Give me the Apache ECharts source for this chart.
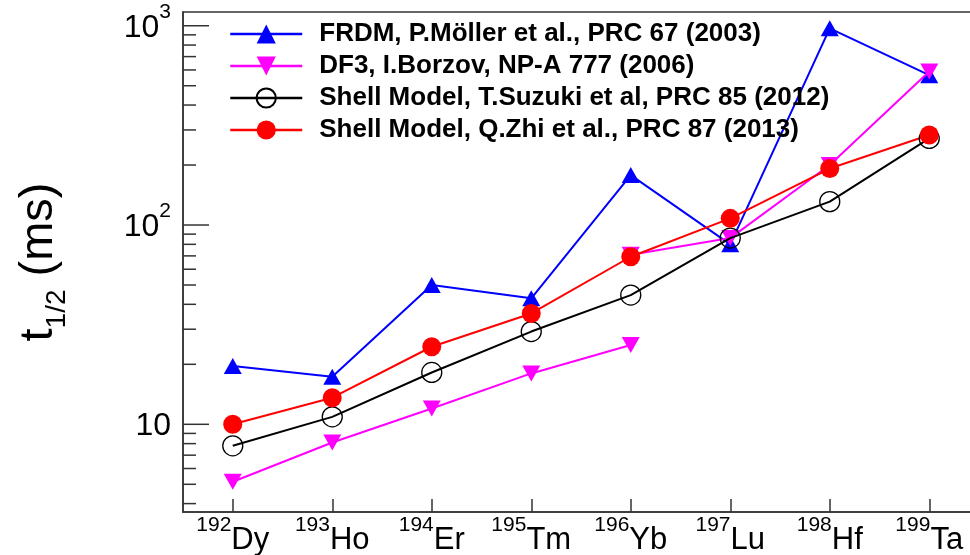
<!DOCTYPE html>
<html>
<head>
<meta charset="utf-8">
<script src="https://cdn.jsdelivr.net/npm/echarts@6/dist/echarts.min.js"></script>
<style>
  html, body { margin: 0; padding: 0; background: #ffffff; }
  #chart { width: 970px; height: 555px; }
</style>
</head>
<body>
<div id="chart"></div>
<script>
// Nuclei along the x axis: mass number (superscript) + element symbol
const massNumbers = [192, 193, 194, 195, 196, 197, 198, 199];
const elements = ['Dy', 'Ho', 'Er', 'Tm', 'Yb', 'Lu', 'Hf', 'Ta'];

// Half-lives t1/2 in ms
const frdm   = [19.6, 17.3, 50.0, 42.9, 178, 80, 970, 565];
const df3Low = [5.15, 8.1, 12.0, 18.0, 25.0, null, null, null];
const df3High = [null, null, null, null, 71, 86, 200, 590];
const suzuki = [7.8, 10.9, 18.2, 29.2, 44.5, 86, 131, 272];
const zhi    = [10.0, 13.6, 24.5, 36.0, 69.3, 108, 192, 283];

const seriesNames = [
  'FRDM, P.Möller et al., PRC 67 (2003)',
  'DF3, I.Borzov, NP-A 777 (2006)',
  'Shell Model, T.Suzuki et al, PRC 85 (2012)',
  'Shell Model, Q.Zhi et al., PRC 87 (2013)'
];

// Log-axis range and tick marks (major at decades)
const yMin = 3.63, yMax = 1172;
const yTicks = [4, 5, 6, 7, 8, 9, 10, 20, 30, 40, 50, 60, 70, 80, 90,
                100, 200, 300, 400, 500, 600, 700, 800, 900, 1000];
const yMajorTicks = [10, 100, 1000];

const categories = massNumbers.map((a, i) => a + elements[i]);
const frameColor = '#333333';
const font = 'Liberation Sans, Arial, Helvetica, sans-serif';

const chart = echarts.init(document.getElementById('chart'), null, { renderer: 'canvas' });

// Short/long tick marks on the inner side of the log axis
function renderTick(params, api) {
  const v = api.value(1);
  const major = api.value(2);
  const pt = api.coord([0, v]);
  const x0 = params.coordSys.x;
  const len = major ? 26 : 13;
  return {
    type: 'line',
    shape: { x1: x0, y1: pt[1], x2: x0 + len, y2: pt[1] },
    style: { stroke: frameColor, lineWidth: 1.5 }
  };
}

const option = {
  animation: false,
  backgroundColor: '#ffffff',
  textStyle: { fontFamily: font },
  grid: {
    left: 183, top: 12, width: 796, height: 500,
    show: true, borderColor: frameColor, borderWidth: 1.5,
    backgroundColor: 'transparent',
    containLabel: false, outerBoundsMode: 'none'
  },
  legend: {
    data: seriesNames,
    orient: 'vertical',
    left: 229, top: 18,
    padding: 0,
    itemWidth: 72, itemHeight: 24, itemGap: 0,
    lineStyle: { width: 2.5 },
    textStyle: {
      fontFamily: font, fontWeight: 'bold', fontSize: 26, color: '#000',
      lineHeight: 32, padding: [0, 0, 0, 12]
    },
    selectedMode: false
  },
  xAxis: {
    type: 'category',
    data: categories,
    boundaryGap: true,
    axisLine: { show: true, lineStyle: { color: frameColor, width: 1.5 } },
    axisTick: { show: true, inside: true, alignWithLabel: true, length: 13,
                lineStyle: { color: frameColor, width: 1.5 } },
    splitLine: { show: false },
    axisLabel: {
      margin: 3,
      interval: 0,
      formatter: (val, idx) => '{sup|' + massNumbers[idx] + '}{el|' + elements[idx] + '}',
      rich: {
        sup: { fontFamily: font, fontSize: 21, lineHeight: 21, verticalAlign: 'top', color: '#000' },
        el:  { fontFamily: font, fontSize: 31, lineHeight: 31, padding: [10, 0, 0, 0], verticalAlign: 'top', color: '#000' }
      }
    }
  },
  yAxis: {
    type: 'log',
    logBase: 10,
    min: yMin, max: yMax,
    axisLine: { show: true, lineStyle: { color: frameColor, width: 1.5 } },
    axisTick: { show: false },
    splitLine: { show: false },
    minorTick: { show: false },
    axisLabel: {
      margin: 12,
      padding: [0, 0, 16, 0],
      showMinLabel: false, showMaxLabel: false,
      formatter: (v) => {
        const e = Math.log10(v);
        const n = Math.round(e);
        if (Math.abs(e - n) > 1e-6) return '';
        return n === 1 ? '{b|10}' : '{b|10}{e|' + n + '}';
      },
      rich: {
        b: { fontFamily: font, fontSize: 32, lineHeight: 32, padding: [10, 0, 0, 0], verticalAlign: 'top', color: '#000' },
        e: { fontFamily: font, fontSize: 21, lineHeight: 21, verticalAlign: 'top', color: '#000' }
      }
    },
    name: '{t|t}{s|1/2}{n| (ms)}',
    nameLocation: 'middle',
    nameRotate: 90,
    nameGap: 120,
    nameMoveOverlap: false,
    nameTextStyle: {
      rich: {
        t: { fontFamily: font, fontSize: 47, lineHeight: 47, verticalAlign: 'top', color: '#000' },
        s: { fontFamily: font, fontSize: 28, lineHeight: 28, padding: [27, 0, 0, 0], verticalAlign: 'top', color: '#000' },
        n: { fontFamily: font, fontSize: 47, lineHeight: 47, verticalAlign: 'top', color: '#000' }
      }
    }
  },
  series: [
    {
      type: 'custom',
      name: 'yticks',
      silent: true,
      clip: false,
      renderItem: renderTick,
      data: yTicks.map(v => [0, v, yMajorTicks.indexOf(v) >= 0 ? 1 : 0]),
      z: 5
    },
    {
      type: 'line', name: seriesNames[0], data: frdm,
      symbol: 'triangle', symbolSize: [18, 16],
      lineStyle: { color: '#0000ff', width: 2 },
      itemStyle: { color: '#0000ff' },
      z: 2
    },
    {
      type: 'line', name: seriesNames[1], data: df3Low,
      symbol: 'triangle', symbolSize: [18, 16], symbolRotate: 180,
      connectNulls: false,
      lineStyle: { color: '#ff00ff', width: 2 },
      itemStyle: { color: '#ff00ff' },
      z: 3
    },
    {
      type: 'line', name: seriesNames[1], data: df3High,
      symbol: 'triangle', symbolSize: [18, 16], symbolRotate: 180,
      connectNulls: false,
      lineStyle: { color: '#ff00ff', width: 2 },
      itemStyle: { color: '#ff00ff' },
      z: 3
    },
    {
      type: 'line', name: seriesNames[2], data: suzuki,
      symbol: 'circle', symbolSize: 20,
      lineStyle: { color: '#000000', width: 2 },
      itemStyle: { color: 'rgba(0,0,0,0)', borderColor: '#000000', borderWidth: 1.3 },
      z: 4
    },
    {
      type: 'line', name: seriesNames[3], data: zhi,
      symbol: 'circle', symbolSize: 19,
      lineStyle: { color: '#ff0000', width: 2 },
      itemStyle: { color: '#ff0000' },
      z: 4
    }
  ]
};

chart.setOption(option);
</script>
</body>
</html>
